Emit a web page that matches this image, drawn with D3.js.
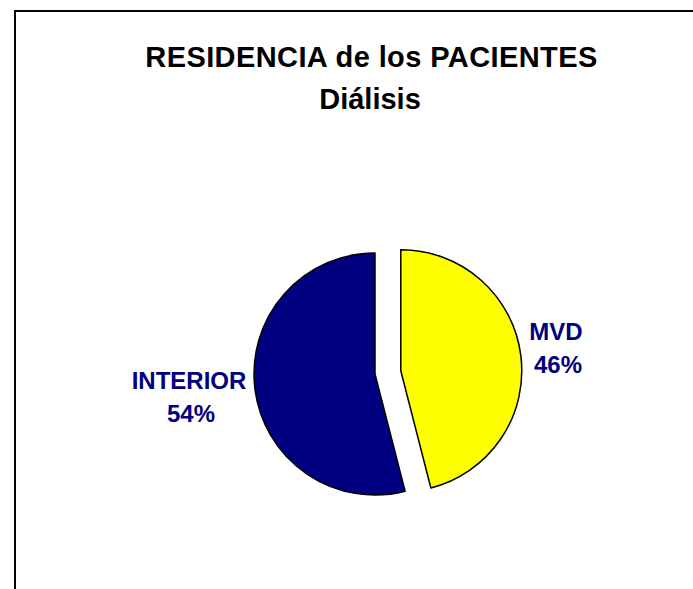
<!DOCTYPE html>
<html>
<head>
<meta charset="utf-8">
<script src="https://cdn.jsdelivr.net/npm/d3@7"></script>
<style>
  html, body { margin: 0; padding: 0; background: #fff; }
  svg { display: block; font-family: "Liberation Sans", Arial, sans-serif; }
</style>
</head>
<body>
<div id="chart"></div>
<script>
// chart data
const categories = ['MVD', 'INTERIOR'];
const values = [46, 54];
const colors = ['#ffff00', '#000080'];
const explode = [26, 0];
const titleLines = ['RESIDENCIA de los PACIENTES', 'Diálisis'];

const width = 693, height = 589;
const cx = 375, cy = 374, radius = 121;

const svg = d3.select('#chart')
  .append('svg')
  .attr('width', width)
  .attr('height', height);

// frame (runs off the right and bottom edges)
svg.append('rect')
  .attr('x', 15).attr('y', 11)
  .attr('width', width + 20).attr('height', height + 20)
  .attr('fill', '#fff')
  .attr('stroke', '#000')
  .attr('stroke-width', 2);

// title
svg.append('g')
  .selectAll('text')
  .data(titleLines)
  .enter()
  .append('text')
  .attr('x', (d, i) => (i === 0 ? 371.5 : 370))
  .attr('y', (d, i) => (i === 0 ? 67 : 109))
  .attr('text-anchor', 'middle')
  .style('font-size', '29px')
  .style('font-weight', 'bold')
  .style('letter-spacing', (d, i) => (i === 0 ? '0.4px' : '0px'))
  .attr('fill', '#000')
  .text((d) => d);

const data = categories.map((c, i) => ({ label: c, value: values[i], color: colors[i], explode: explode[i] }));

const pie = d3.pie().sort(null).value((d) => d.value);
const arc = d3.arc().innerRadius(0).outerRadius(radius);
const arcs = pie(data);

const g = svg.append('g').attr('transform', `translate(${cx},${cy})`);

g.selectAll('path')
  .data(arcs)
  .enter()
  .append('path')
  .attr('transform', (d) => {
    const mid = (d.startAngle + d.endAngle) / 2;
    const off = d.data.explode;
    return `translate(${Math.sin(mid) * off},${-Math.cos(mid) * off})`;
  })
  .attr('d', arc)
  .attr('fill', (d) => d.data.color)
  .attr('stroke', '#000')
  .attr('stroke-width', 1.5)
  .attr('stroke-linejoin', 'round');

// data labels
const labelPos = [
  { x: 556, y: 340 },
  { x: 189, y: 389 }
];
const total = d3.sum(values);

const labels = svg.append('g')
  .selectAll('text')
  .data(arcs)
  .enter()
  .append('text')
  .attr('text-anchor', 'middle')
  .attr('fill', '#000080')
  .style('font-size', '24px')
  .style('font-weight', 'bold');

labels.append('tspan')
  .attr('x', (d, i) => labelPos[i].x)
  .attr('y', (d, i) => labelPos[i].y)
  .text((d) => d.data.label);

labels.append('tspan')
  .attr('x', (d, i) => labelPos[i].x + 2)
  .attr('y', (d, i) => labelPos[i].y + 33)
  .text((d) => Math.round(d.data.value / total * 100) + '%');
</script>
</body>
</html>
